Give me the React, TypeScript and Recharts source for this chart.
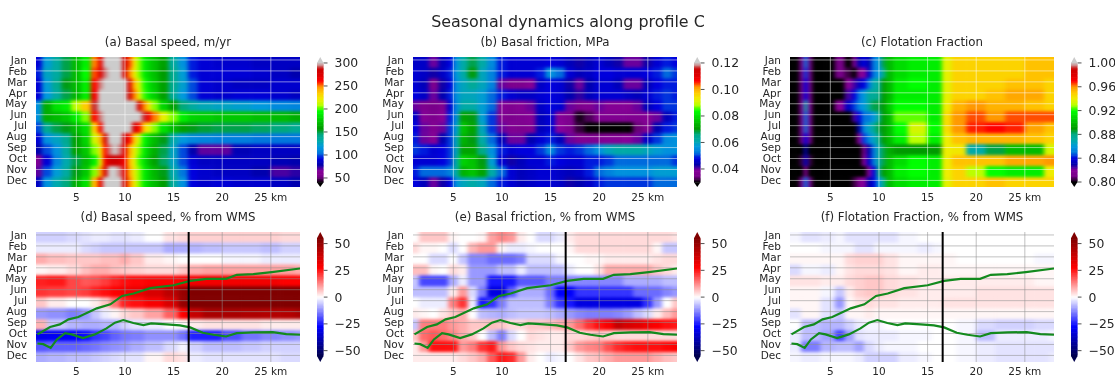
import { Scatter, ScatterChart, XAxis, YAxis } from "recharts";

const months = ["Jan", "Feb", "Mar", "Apr", "May", "Jun", "Jul", "Aug", "Sep", "Oct", "Nov", "Dec"];
const kmTicks = [5, 10, 15, 20, 25];

const speedKm = [1, 2, 3, 4, 5, 6, 7, 7.5, 8, 8.5, 9, 9.5, 10, 10.5, 11, 11.5, 12, 12.5, 13, 14, 15, 16, 17, 18, 20, 22, 24, 26, 28];
const basalSpeed = [
  [90, 120, 135, 150, 170, 190, 250, 270, 305, 320, 330, 310, 285, 255, 225, 205, 190, 180, 172, 160, 135, 115, 95, 90, 88, 88, 85, 85, 85],
  [95, 125, 135, 150, 170, 195, 255, 275, 295, 310, 320, 305, 280, 250, 222, 205, 190, 180, 172, 158, 140, 120, 95, 90, 90, 90, 88, 85, 80],
  [90, 120, 140, 155, 170, 190, 260, 295, 315, 330, 335, 325, 305, 275, 240, 215, 198, 185, 175, 160, 140, 122, 100, 90, 88, 85, 85, 88, 88],
  [90, 118, 135, 150, 168, 190, 265, 300, 320, 335, 345, 335, 310, 285, 250, 220, 200, 188, 178, 160, 138, 118, 100, 90, 88, 90, 90, 88, 85],
  [115, 165, 185, 190, 210, 235, 290, 315, 340, 350, 360, 350, 340, 330, 315, 280, 250, 225, 205, 180, 160, 145, 135, 128, 125, 122, 118, 112, 110],
  [115, 165, 170, 175, 190, 205, 260, 295, 325, 345, 365, 370, 365, 350, 340, 320, 290, 265, 250, 220, 205, 190, 180, 178, 175, 175, 172, 170, 165],
  [100, 140, 150, 155, 170, 185, 235, 265, 305, 330, 345, 340, 325, 305, 280, 260, 235, 220, 205, 185, 170, 160, 155, 152, 150, 150, 148, 145, 140],
  [90, 115, 125, 140, 160, 180, 215, 240, 280, 305, 320, 310, 285, 260, 235, 212, 195, 180, 170, 155, 130, 118, 112, 110, 108, 108, 105, 105, 105],
  [80, 100, 115, 135, 160, 175, 205, 225, 260, 295, 305, 295, 270, 245, 220, 205, 190, 175, 165, 150, 125, 100, 80, 70, 70, 82, 85, 85, 85],
  [60, 90, 110, 130, 150, 170, 190, 220, 265, 285, 285, 280, 265, 240, 220, 200, 185, 170, 160, 148, 125, 100, 90, 85, 85, 85, 85, 82, 80],
  [70, 100, 120, 135, 155, 175, 205, 245, 280, 300, 310, 295, 270, 245, 220, 205, 190, 178, 168, 155, 130, 105, 92, 88, 85, 85, 80, 72, 75],
  [85, 115, 130, 145, 165, 185, 240, 270, 300, 320, 325, 310, 280, 250, 222, 205, 190, 178, 170, 158, 135, 115, 92, 88, 90, 88, 88, 85, 80],
];

const frictionKm = [1, 2, 3, 4, 4.7, 5.3, 6, 7, 8, 9, 10, 11, 12, 13, 14, 15, 16, 17, 18, 19, 20, 21, 22, 23, 24, 25, 26, 27, 28];
const basalFriction = [
  [.046, .046, .04, .045, .048, .056, .062, .068, .062, .055, .049, .047, .047, .047, .047, .048, .047, .045, .043, .045, .047, .045, .043, .04, .04, .043, .047, .049, .048],
  [.047, .046, .043, .046, .049, .057, .062, .07, .06, .054, .049, .047, .047, .047, .049, .056, .052, .047, .045, .046, .048, .048, .047, .047, .047, .048, .049, .052, .05],
  [.047, .045, .036, .043, .048, .056, .06, .064, .06, .054, .04, .036, .036, .038, .046, .048, .047, .043, .04, .044, .047, .047, .045, .04, .04, .045, .048, .049, .049],
  [.048, .046, .04, .044, .049, .056, .06, .06, .058, .052, .049, .047, .046, .046, .047, .048, .047, .044, .042, .045, .047, .047, .047, .046, .045, .047, .049, .05, .049],
  [.04, .036, .035, .037, .047, .055, .062, .062, .058, .052, .038, .037, .038, .04, .046, .048, .047, .04, .036, .037, .04, .038, .038, .038, .04, .045, .048, .05, .05],
  [.046, .038, .036, .039, .049, .056, .072, .07, .058, .05, .037, .036, .037, .038, .045, .047, .038, .036, .031, .033, .037, .037, .037, .037, .037, .038, .04, .045, .049],
  [.048, .04, .037, .04, .05, .058, .076, .072, .06, .05, .04, .037, .036, .037, .045, .047, .039, .036, .032, .03, .029, .029, .029, .03, .034, .037, .044, .049, .05],
  [.049, .04, .038, .044, .05, .06, .074, .07, .062, .052, .045, .04, .04, .044, .047, .049, .045, .04, .037, .037, .037, .038, .038, .039, .04, .046, .05, .055, .056],
  [.05, .049, .047, .048, .05, .06, .072, .072, .066, .056, .049, .047, .048, .048, .05, .055, .05, .049, .05, .052, .056, .06, .062, .062, .062, .06, .058, .056, .056],
  [.047, .047, .047, .048, .05, .062, .078, .076, .07, .058, .047, .043, .045, .047, .047, .049, .048, .047, .047, .049, .049, .05, .052, .052, .052, .052, .052, .052, .05],
  [.049, .052, .052, .052, .054, .062, .074, .076, .072, .062, .052, .047, .045, .046, .047, .047, .046, .045, .046, .049, .052, .054, .056, .056, .056, .056, .058, .058, .058],
  [.048, .045, .04, .043, .048, .056, .06, .062, .06, .052, .049, .047, .045, .046, .047, .047, .046, .043, .044, .046, .049, .05, .05, .05, .05, .05, .052, .052, .052],
];

const flotationKm = [1, 1.6, 2.1, 2.5, 2.9, 3.4, 4.2, 5, 6, 7, 7.5, 8, 8.5, 9, 9.5, 10, 10.5, 11, 12, 14, 16, 17, 18, 20, 22, 24, 26, 28];
const flotation = [
  [.78, .79, .815, .85, .81, .785, .78, .79, .81, .8, .815, .83, .84, .83, .85, .86, .885, .9, .91, .915, .915, .938, .948, .948, .948, .948, .952, .952],
  [.78, .79, .815, .845, .81, .785, .78, .785, .81, .805, .8, .815, .82, .835, .85, .86, .88, .9, .91, .915, .915, .938, .948, .948, .948, .948, .952, .952],
  [.78, .79, .81, .84, .81, .785, .78, .785, .8, .82, .825, .835, .84, .85, .87, .875, .89, .9, .915, .92, .915, .938, .948, .948, .948, .952, .952, .948],
  [.78, .79, .81, .84, .81, .785, .78, .785, .8, .825, .84, .85, .86, .875, .875, .88, .89, .9, .915, .915, .915, .938, .948, .948, .952, .957, .957, .948],
  [.78, .8, .82, .87, .82, .79, .78, .8, .82, .835, .845, .855, .86, .875, .885, .885, .89, .905, .92, .92, .915, .94, .955, .96, .955, .955, .952, .948],
  [.78, .8, .815, .85, .815, .785, .78, .78, .78, .8, .825, .84, .85, .85, .86, .875, .89, .9, .925, .925, .915, .945, .96, .965, .96, .965, .965, .965],
  [.78, .79, .815, .85, .815, .785, .78, .78, .78, .78, .8, .83, .855, .865, .875, .885, .89, .9, .92, .935, .92, .945, .96, .968, .97, .968, .958, .952],
  [.78, .79, .81, .84, .81, .785, .78, .78, .78, .78, .785, .82, .845, .855, .865, .88, .89, .9, .915, .93, .915, .94, .952, .955, .955, .955, .952, .948],
  [.78, .785, .8, .83, .8, .78, .78, .78, .78, .78, .78, .795, .81, .83, .85, .87, .885, .895, .89, .89, .89, .94, .942, .87, .885, .9, .9, .935],
  [.78, .785, .805, .835, .805, .78, .78, .78, .78, .78, .78, .8, .82, .835, .85, .87, .885, .9, .91, .92, .915, .94, .952, .952, .952, .957, .957, .96],
  [.78, .785, .8, .82, .8, .78, .78, .78, .78, .78, .785, .79, .795, .82, .84, .875, .89, .9, .915, .92, .915, .94, .948, .93, .92, .915, .915, .94],
  [.78, .79, .815, .85, .815, .785, .78, .785, .785, .795, .805, .815, .82, .83, .84, .86, .88, .9, .91, .915, .915, .938, .948, .948, .952, .948, .948, .948],
];

const anomalyKm = [1, 3, 5, 6, 7, 8, 9, 10, 11, 13, 15, 16, 17, 19, 21, 23, 25, 27, 28];
const speedAnomaly = [
  [-5, -5, -4, -3, -2, -2, -3, -3, -2, 0, 3, 4, 5, 5, 5, 5, 5, 4, 4],
  [-2, -2, -2, -4, -5, -6, -6, -6, -6, -6, -9, -9, -8, -7, -6, -6, -7, -5, -5],
  [9, 7, 6, 6, 6, 7, 7, 9, 6, 2, 1, 0, 0, 0, -1, -1, -2, -2, -2],
  [1, 2, 4, 7, 9, 9, 7, 6, 5, 4, 4, 6, 9, 10, 10, 10, 10, 10, 9],
  [24, 25, 20, 18, 19, 21, 24, 26, 27, 28, 28, 29, 30, 30, 30, 30, 30, 28, 28],
  [22, 21, 20, 21, 24, 26, 28, 30, 32, 36, 42, 50, 58, 58, 58, 58, 58, 58, 58],
  [6, 2, 0, 0, 2, 6, 15, 24, 26, 29, 36, 50, 60, 62, 62, 62, 62, 62, 62],
  [-11, -12, -14, -11, -6, -2, 1, 4, 6, 10, 17, 28, 40, 46, 46, 45, 44, 44, 46],
  [8, -6, -8, -9, -9, -8, -8, -5, -3, -2, 0, 1, 2, 3, 3, 3, 2, 2, 2],
  [-30, -29, -28, -26, -22, -20, -17, -15, -14, -12, -12, -15, -24, -24, -19, -15, -13, -12, -11],
  [-18, -17, -17, -16, -15, -13, -12, -11, -9, -7, -4, -1, -5, -7, -7, -6, -5, -5, -5],
  [-9, -8, -7, -7, -6, -5, -4, -3, -3, 1, 4, 3, -2, -3, -3, -3, -3, -4, -4],
];

const frictionAnomalyKm = [1, 2, 3, 4, 5, 6, 7, 8, 9, 10, 11, 12, 13, 14, 15, 16, 17, 18, 19, 20, 21, 22, 23, 24, 25, 26, 27, 28];
const frictionAnomaly = [
  [0, 6, 6, 6, 1, 0, 0, 1, 10, 13, 11, 2, 0, -4, -4, -2, 2, 4, 4, 4, 4, 4, 4, 4, 4, 4, 4, 3],
  [4, 1, 1, 0, -4, 0, 8, 11, 11, 1, -2, -2, -1, 0, 0, 0, 1, 4, 4, 4, 4, 4, 4, 4, 4, 1, -6, -6],
  [0, 0, -4, -4, 0, -6, -13, -13, -16, -16, -16, -14, -4, -4, -4, -1, 0, 0, 1, 1, 2, 2, 2, 2, 2, 3, 4, 4],
  [7, 7, 1, 0, 4, 2, -11, -11, -11, -7, -7, -2, -7, -7, -7, -7, -2, 0, 0, 3, 9, 9, 9, 9, 9, 6, 4, 2],
  [-6, -20, -20, -20, -9, -2, -11, -11, -25, -25, -25, -18, -18, -18, -14, -14, -13, -13, -13, -13, -13, -13, -9, -9, -9, -9, -7, -7],
  [-7, -7, -7, -7, 2, 11, -4, -14, -32, -32, -18, -9, -9, -9, -16, -28, -28, -22, -22, -22, -22, -22, -22, -16, -16, -16, -13, -11],
  [0, -2, -2, -2, 14, 22, -2, -25, -22, -14, -7, -7, -7, -7, -14, -22, -25, -32, -32, -32, -32, -32, -32, -32, -22, -11, 0, 6],
  [2, 1, 0, 3, 6, 9, 0, -7, -8, -9, -7, -6, -6, -6, -7, -9, -11, -13, -14, -14, -14, -13, -11, -7, -4, 2, 7, 11],
  [-6, 14, 14, 14, 11, 9, 6, 6, 7, 6, 4, 4, 6, 6, 7, 9, 11, 16, 22, 26, 29, 40, 36, 34, 30, 28, 26, 25],
  [6, 16, 18, 16, 13, 9, 6, 0, -7, -14, -4, 0, 4, 3, 2, 2, 4, 4, 5, 6, 5, 4, 4, 4, 4, 4, 4, 4],
  [2, 11, 26, 26, 26, 11, 14, 22, 25, 11, 6, 4, 3, 2, 2, 2, 6, 11, 13, 14, 19, 23, 25, 26, 26, 26, 27, 28],
  [2, 2, 2, 2, 2, 4, 6, 9, 18, 25, 23, 11, 2, 0, -2, -1, 0, 3, 6, 7, 9, 11, 11, 11, 11, 9, 7, 6],
];

const flotationAnomaly = [
  [-1, -3, -2, -1, -3, -3, -3, -3, -3, -1, 0, 0, 0, 0, 0, 0, 0, 0, 0],
  [0, 0, -1, -1, -1, -3, -3, -1, -1, -1, -2, -1, 0, 0, 0, 0, 0, 0, 0],
  [1, 1, 1, 1, 4, 5, 5, 5, 3, 1, 1, 1, 1, 0, 0, 0, 0, -1, -1],
  [-4, -1, -2, 1, 3, 4, 4, 4, 3, 1, 2, 2, 1, 1, 1, 1, 1, 1, 1],
  [3, 3, 2, 2, 4, 5, 6, 6, 4, 3, 2, 2, 2, 2, 2, 2, 2, 1, 1],
  [1, 1, -1, -6, 2, 5, 6, 6, 4, 3, 2, 2, 2, 2, 3, 3, 3, 3, 3],
  [1, 1, -3, -11, 1, 3, 4, 3, 3, 2, 2, 2, 3, 3, 3, 3, 3, 3, 3],
  [-3, 1, -3, -6, 1, 1, 2, 1, 1, 1, 1, 1, 1, 1, 1, 1, 1, 1, 1],
  [0, -7, -8, -8, -5, -2, -1, -1, 0, 0, 0, 0, 0, -1, -4, -5, -5, -4, -4],
  [-2, -7, -10, -20, -10, -3, -2, -2, -2, -1, -1, 0, 0, -1, -7, -2, -2, -2, -1],
  [-2, -14, -8, -7, -7, -10, -4, -2, -1, -1, 0, 0, 0, -1, -2, -3, -3, -3, -3],
  [-1, -2, -1, -1, -1, -2, -5, -5, -5, -2, -1, 0, 0, -1, -2, -3, -3, -3, -2],
];

// green profile lines on the lower panels, km along profile vs. month position
const upperLineKm = [1, 2.3, 3.3, 4.2, 5.2, 7.1, 8.5, 9.7, 10.9, 12.6, 15, 16.7, 18.4, 20.4, 21.5, 23.2, 25.1, 28];
const upperLineMonth = [9.08, 8.41, 8.17, 7.71, 7.49, 6.7, 6.33, 5.57, 5.35, 4.86, 4.59, 4.19, 4.01, 4.01, 3.64, 3.58, 3.39, 3.06];
const lowerLineKm = [1, 1.6, 2.36, 3, 3.84, 4.5, 5.7, 6.9, 8.1, 8.97, 9.83, 10.86, 11.9, 12.7, 14.3, 15.65, 16.7, 18, 19.1, 20.4, 21.5, 23.2, 25.2, 26.6, 28];
const lowerLineMonth = [9.91, 9.97, 10.31, 9.54, 8.96, 9.08, 9.42, 9.08, 8.53, 8.01, 7.77, 8.04, 8.23, 8.07, 8.17, 8.26, 8.44, 8.93, 9.11, 9.27, 8.96, 8.9, 8.87, 9.05, 9.11];
const markerKm = 16.55;

const NIPY: number[][] = [
  [0, 0, 0], [.4667, 0, .5333], [.5333, 0, .6], [0, 0, .6667], [0, 0, .8667], [0, .4667, .8667], [0, .6, .8667],
  [0, .6667, .6667], [0, .6667, .5333], [0, .6, 0], [0, .7333, 0], [0, .8667, 0], [0, 1, 0], [.7333, 1, 0],
  [.9333, .9333, 0], [1, .8, 0], [1, .6, 0], [1, 0, 0], [.8667, 0, 0], [.8, 0, 0], [.8, .8, .8],
];
const SEISMIC: number[][] = [[0, 0, .3], [0, 0, 1], [1, 1, 1], [1, 0, 0], [.5, 0, 0]];

const colorAt = (map: number[][], t: number) => {
  const p = Math.min(Math.max(t, 0), 1) * (map.length - 1);
  const i = Math.min(Math.floor(p), map.length - 2);
  const f = p - i;
  const c = map[i].map((a, k) => Math.round((a + (map[i + 1][k] - a) * f) * 255));
  return `rgb(${c[0]},${c[1]},${c[2]})`;
};

const PLOT_W = 264;
const PLOT_H = 130;
const X_DOMAIN: [number, number] = [0.85, 28];
const Y_DOMAIN: [number, number] = [-0.27, 11.6];
const ROW_SHIFT = 0.22;
const pxPerKm = PLOT_W / (X_DOMAIN[1] - X_DOMAIN[0]);
const pxPerMonth = PLOT_H / (Y_DOMAIN[1] - Y_DOMAIN[0]);

const buildCells = (km: number[], rows: number[][]) =>
  rows.flatMap((row, i) =>
    row.map((v, j) => {
      const left = j === 0 ? 0 : (km[j - 1] + km[j]) / 2;
      const right = j === km.length - 1 ? 29 : (km[j] + km[j + 1]) / 2;
      const top = i + ROW_SHIFT - 0.5 - (i === 0 ? 1 : 0);
      const bottom = i + ROW_SHIFT + 0.5 + (i === rows.length - 1 ? 1 : 0);
      return { x: (left + right) / 2, y: (top + bottom) / 2, v, w: right - left, h: bottom - top };
    }),
  );

const toLine = (km: number[], month: number[]) => km.map((x, i) => ({ x, y: month[i] }));
const upperLine = toLine(upperLineKm, upperLineMonth);
const lowerLine = toLine(lowerLineKm, lowerLineMonth);

type Scale = { map: number[][]; min: number; max: number; ticks: number[]; domain: [number, number]; digits: number };

const speedScale: Scale = { map: NIPY, min: 40, max: 300, ticks: [50, 100, 150, 200, 250, 300], domain: [30.4, 313], digits: 0 };
const frictionScale: Scale = { map: NIPY, min: 0.03, max: 0.12, ticks: [0.04, 0.06, 0.08, 0.1, 0.12], domain: [0.0264, 0.1245], digits: 2 };
const flotationScale: Scale = { map: NIPY, min: 0.8, max: 1, ticks: [0.8, 0.84, 0.88, 0.92, 0.96, 1], domain: [0.7916, 1.01], digits: 2 };
const anomalyScale: Scale = { map: SEISMIC, min: -55, max: 55, ticks: [-50, -25, 0, 25, 50], domain: [-60.6, 60.8], digits: 0 };

const TEXT = "#262626";
const noMark = () => <g />;

const Panel = ({ left, top, title, km, rows, scale, overlay }: {
  left: number; top: number; title: string; km: number[]; rows: number[][]; scale: Scale; overlay: boolean;
}) => {
  const cells = buildCells(km, rows);
  const grid = overlay ? { stroke: "#8f8f8f", strokeOpacity: 0.7, strokeWidth: 0.8 } : { stroke: "#fff", strokeOpacity: 0.65, strokeWidth: 0.8 };
  const drawCell = (p: any) => {
    const { v, w, h } = p.payload;
    const t = (v - scale.min) / (scale.max - scale.min);
    const pw = w * pxPerKm + 0.6;
    const ph = h * pxPerMonth + 0.6;
    return <rect x={p.cx - pw / 2} y={p.cy - ph / 2} width={pw} height={ph} fill={colorAt(scale.map, t)} />;
  };
  return (
    <div style={{ position: "absolute", left: left - 36, top: top - 22 }}>
      <div style={{ position: "absolute", left: 36, width: PLOT_W, top: 0, textAlign: "center", fontSize: 11.8, color: TEXT, whiteSpace: "nowrap" }}>{title}</div>
      <ScatterChart width={36 + PLOT_W} height={22 + PLOT_H + 22} margin={{ top: 22, right: 0, bottom: 0, left: 0 }}>
        <XAxis type="number" dataKey="x" domain={X_DOMAIN} allowDataOverflow ticks={kmTicks} interval={0} height={22}
          tickFormatter={(k: number) => (k === 25 ? "25 km" : String(k))} tick={{ fontSize: 10.5, fill: TEXT }}
          tickLine={false} axisLine={false} tickMargin={overlay ? 0 : 1} />
        <YAxis type="number" dataKey="y" reversed domain={Y_DOMAIN} allowDataOverflow ticks={months.map((_, i) => i)} interval={0} width={36}
          tickFormatter={(i: number) => months[i]} tick={{ fontSize: 10.5, fill: TEXT }} tickLine={false} axisLine={false} tickMargin={3} />
        <Scatter data={cells} shape={drawCell} className="soft-cells" isAnimationActive={false} />
        {kmTicks.map((k) => (
          <Scatter key={`v${k}`} data={[{ x: k, y: Y_DOMAIN[0] }, { x: k, y: Y_DOMAIN[1] }]} line={grid} shape={noMark} isAnimationActive={false} />
        ))}
        {months.map((m, i) => (
          <Scatter key={m} data={[{ x: X_DOMAIN[0], y: i }, { x: X_DOMAIN[1], y: i }]} line={grid} shape={noMark} isAnimationActive={false} />
        ))}
        {overlay && <Scatter data={upperLine} line={{ stroke: "#138a1e", strokeWidth: 2.2 }} shape={noMark} isAnimationActive={false} />}
        {overlay && <Scatter data={lowerLine} line={{ stroke: "#138a1e", strokeWidth: 2.2 }} shape={noMark} isAnimationActive={false} />}
        {overlay && <Scatter data={[{ x: markerKm, y: Y_DOMAIN[0] }, { x: markerKm, y: Y_DOMAIN[1] }]} line={{ stroke: "#000", strokeWidth: 2 }} shape={noMark} isAnimationActive={false} />}
      </ScatterChart>
    </div>
  );
};

const Colorbar = ({ left, top, scale }: { left: number; top: number; scale: Scale }) => {
  const { min, max, domain, map } = scale;
  const unit = PLOT_H / (domain[1] - domain[0]);
  const n = 90;
  const levels = Array.from({ length: n }, (_, i) => ({ x: 0, y: min + ((i + 0.5) / n) * (max - min), t: (i + 0.5) / n }));
  const stepPx = ((max - min) / n) * unit + 0.6;
  const barW = 6.5;
  const pad = 8;
  const drawLevel = (p: any) => <rect x={p.cx - barW / 2} y={p.cy - stepPx / 2} width={barW} height={stepPx} fill={colorAt(map, p.payload.t)} />;
  const upPx = (domain[1] - max) * unit;
  const downPx = (min - domain[0]) * unit;
  return (
    <div style={{ position: "absolute", left, top: top - pad }}>
      <ScatterChart width={barW + 44} height={PLOT_H + pad * 2} margin={{ top: pad, right: 0, bottom: pad, left: 0 }}>
        <XAxis type="number" dataKey="x" hide domain={[-1, 1]} />
        <YAxis type="number" dataKey="y" orientation="right" domain={domain} ticks={scale.ticks} interval={0} width={44}
          tickFormatter={(v: number) => v.toFixed(scale.digits).replace("-", "\u2212")}
          tick={{ fontSize: 12.4, fill: TEXT }} tickSize={4} tickMargin={7} tickLine={{ stroke: TEXT, strokeWidth: 0.8 }} axisLine={false} />
        <Scatter data={levels} shape={drawLevel} isAnimationActive={false} />
        <Scatter data={[{ x: 0, y: domain[1] }]} isAnimationActive={false}
          shape={(p: any) => <polygon points={`${p.cx},${p.cy} ${p.cx - barW / 2},${p.cy + upPx} ${p.cx + barW / 2},${p.cy + upPx}`} fill={colorAt(map, 1)} />} />
        <Scatter data={[{ x: 0, y: domain[0] }]} isAnimationActive={false}
          shape={(p: any) => <polygon points={`${p.cx},${p.cy} ${p.cx - barW / 2},${p.cy - downPx} ${p.cx + barW / 2},${p.cy - downPx}`} fill={colorAt(map, 0)} />} />
      </ScatterChart>
    </div>
  );
};

const columns = [36, 413, 790];
const barLeft = [317, 694, 1071];
const ROW_TOP = 57;
const ROW_BOTTOM = 231.7;

export default function App() {
  return (
    <div style={{ position: "absolute", left: 0, top: 0, width: 1115, height: 376, overflow: "hidden", background: "#fff", fontFamily: "'DejaVu Sans', sans-serif", filter: "blur(0.45px)" }}>
      <style>{`.soft-cells { filter: url(#soft-cells); }`}</style>
      <svg width={0} height={0} style={{ position: "absolute" }}>
        <defs>
          <filter id="soft-cells" x="-5%" y="-5%" width="110%" height="110%" colorInterpolationFilters="sRGB">
            <feGaussianBlur stdDeviation="2.2 1.8" />
          </filter>
        </defs>
      </svg>
      <div style={{ position: "absolute", left: 0, width: 1136, top: 12, textAlign: "center", fontSize: 15.9, color: TEXT, whiteSpace: "nowrap" }}>Seasonal dynamics along profile C</div>

      <Panel left={columns[0]} top={ROW_TOP} title="(a) Basal speed, m/yr" km={speedKm} rows={basalSpeed} scale={speedScale} overlay={false} />
      <Panel left={columns[1]} top={ROW_TOP} title="(b) Basal friction, MPa" km={frictionKm} rows={basalFriction} scale={frictionScale} overlay={false} />
      <Panel left={columns[2]} top={ROW_TOP} title="(c) Flotation Fraction" km={flotationKm} rows={flotation} scale={flotationScale} overlay={false} />
      <Panel left={columns[0]} top={ROW_BOTTOM} title="(d) Basal speed, % from WMS" km={anomalyKm} rows={speedAnomaly} scale={anomalyScale} overlay />
      <Panel left={columns[1]} top={ROW_BOTTOM} title="(e) Basal friction, % from WMS" km={frictionAnomalyKm} rows={frictionAnomaly} scale={anomalyScale} overlay />
      <Panel left={columns[2]} top={ROW_BOTTOM} title="(f) Flotation Fraction, % from WMS" km={anomalyKm} rows={flotationAnomaly} scale={anomalyScale} overlay />

      <Colorbar left={barLeft[0]} top={ROW_TOP} scale={speedScale} />
      <Colorbar left={barLeft[1]} top={ROW_TOP} scale={frictionScale} />
      <Colorbar left={barLeft[2]} top={ROW_TOP} scale={flotationScale} />
      {barLeft.map((x) => <Colorbar key={x} left={x} top={ROW_BOTTOM} scale={anomalyScale} />)}
    </div>
  );
}
